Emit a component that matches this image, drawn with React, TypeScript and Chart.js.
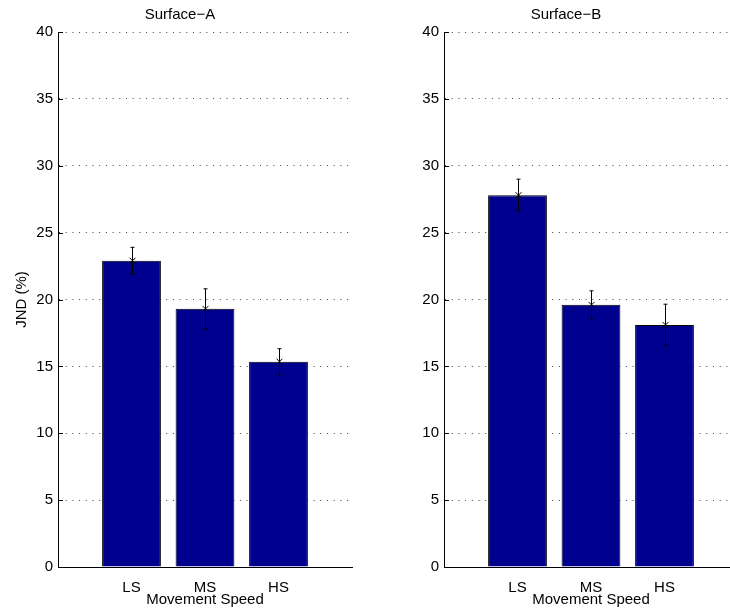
import React, { useEffect, useRef } from "react";
import { Chart, registerables } from "chart.js";

Chart.register(...registerables);

const categories = ["LS", "MS", "HS"];
const surfaceAMeans = [22.9, 19.3, 15.35];
const surfaceAErrors = [1.0, 1.5, 0.97];
const surfaceBMeans = [27.8, 19.6, 18.1];
const surfaceBErrors = [1.2, 1.05, 1.55];
const yTicks = [0, 5, 10, 15, 20, 25, 30, 35, 40];

const FONT = "'Liberation Sans', Arial, Helvetica, sans-serif";
const FS = 15;

const errorBarPlugin = {
  id: "errorBars",
  afterDatasetsDraw(chart: any) {
    const errs: number[] = chart.options.plugins.errorBars?.errors || [];
    const means: number[] = chart.data.datasets[0].data.map((d: any) => d.y);
    const xs = chart.scales.x;
    const ys = chart.scales.y;
    const ctx = chart.ctx;
    ctx.save();
    ctx.strokeStyle = "#000";
    ctx.lineWidth = 1;
    means.forEach((m, i) => {
      const x = Math.round(xs.getPixelForValue(i + 1)) + 0.5;
      const yTop = ys.getPixelForValue(m + errs[i]);
      const yBot = ys.getPixelForValue(m - errs[i]);
      const yM = ys.getPixelForValue(m);
      ctx.beginPath();
      ctx.moveTo(x, yTop);
      ctx.lineTo(x, yBot);
      ctx.moveTo(x - 2, yTop);
      ctx.lineTo(x + 2, yTop);
      ctx.moveTo(x - 2, yBot);
      ctx.lineTo(x + 2, yBot);
      ctx.moveTo(x - 3, yM - 3);
      ctx.lineTo(x + 3, yM + 3);
      ctx.moveTo(x - 3, yM + 3);
      ctx.lineTo(x + 3, yM - 3);
      ctx.stroke();
    });
    ctx.restore();
  },
};

const innerTickPlugin = {
  id: "innerTicks",
  afterDraw(chart: any) {
    const ys = chart.scales.y;
    const left = chart.chartArea.left;
    const ctx = chart.ctx;
    ctx.save();
    ctx.strokeStyle = "#000";
    ctx.lineWidth = 1;
    ctx.beginPath();
    yTicks.forEach((v) => {
      const y = Math.round(ys.getPixelForValue(v)) + 0.5;
      ctx.moveTo(left, y);
      ctx.lineTo(left + 5, y);
    });
    ctx.stroke();
    ctx.restore();
  },
};

function makeConfig(title: string, means: number[], errors: number[], showYTitle: boolean): any {
  return {
    type: "bar",
    data: {
      datasets: [
        {
          data: means.map((v, i) => ({ x: i + 1, y: v })),
          backgroundColor: "rgb(0,0,143)",
          borderColor: "#000",
          borderWidth: 1,
          barPercentage: 1,
          categoryPercentage: 0.8,
        },
      ],
    },
    options: {
      responsive: false,
      animation: false,
      layout: { padding: { left: 8, right: 13, top: 0, bottom: 0 } },
      plugins: {
        legend: { display: false },
        tooltip: { enabled: false },
        title: {
          display: true,
          text: title,
          color: "#000",
          font: { family: FONT, size: FS, weight: "normal" },
          padding: { top: 6, bottom: 8 },
        },
        errorBars: { errors },
      },
      scales: {
        x: {
          type: "linear",
          min: 0,
          max: 4,
          offset: false,
          afterBuildTicks(scale: any) {
            scale.ticks = categories.map((_, i) => ({ value: i + 1 }));
          },
          afterFit(scale: any) {
            scale.height = 45;
          },
          grid: { display: false, offset: false },
          border: { display: true, color: "#000", width: 1 },
          ticks: {
            color: "#000",
            font: { family: FONT, size: FS },
            padding: 4,
            maxRotation: 0,
            autoSkip: false,
            callback: (v: number) => categories[Math.round(v) - 1] ?? "",
          },
          title: {
            display: true,
            text: "Movement Speed",
            color: "#000",
            font: { family: FONT, size: FS },
            padding: { top: 0, bottom: 3 },
          },
        },
        y: {
          min: 0,
          max: 40,
          afterBuildTicks(scale: any) {
            scale.ticks = yTicks.map((v) => ({ value: v }));
          },
          afterFit(scale: any) {
            scale.width = 50;
          },
          grid: {
            display: true,
            drawTicks: false,
            color: "rgba(0,0,0,0.75)",
            lineWidth: 1,
          },
          border: { display: true, color: "#000", width: 1, dash: [1, 5.7] },
          ticks: {
            color: "#000",
            font: { family: FONT, size: FS },
            padding: 5,
          },
          title: {
            display: showYTitle,
            text: "JND (%)",
            color: "#000",
            font: { family: FONT, size: FS },
            padding: { top: 4.7, bottom: 0 },
          },
        },
      },
    },
    plugins: [errorBarPlugin, innerTickPlugin],
  };
}

function Panel(props: { title: string; means: number[]; errors: number[]; showYTitle: boolean; left: number }) {
  const ref = useRef<HTMLCanvasElement | null>(null);
  useEffect(() => {
    if (!ref.current) return;
    const chart = new Chart(ref.current, makeConfig(props.title, props.means, props.errors, props.showYTitle));
    return () => chart.destroy();
  }, []);
  return (
    <canvas
      ref={ref}
      width={365}
      height={612}
      style={{ position: "absolute", left: props.left, top: 0, width: 365, height: 612 }}
    />
  );
}

export default function App() {
  return (
    <div
      style={{
        position: "fixed",
        left: 0,
        top: 0,
        width: 730,
        height: 612,
        overflow: "hidden",
        background: "#fff",
      }}
    >
      <Panel title={"Surface\u2212A"} means={surfaceAMeans} errors={surfaceAErrors} showYTitle={true} left={0} />
      <Panel title={"Surface\u2212B"} means={surfaceBMeans} errors={surfaceBErrors} showYTitle={false} left={386} />
    </div>
  );
}
